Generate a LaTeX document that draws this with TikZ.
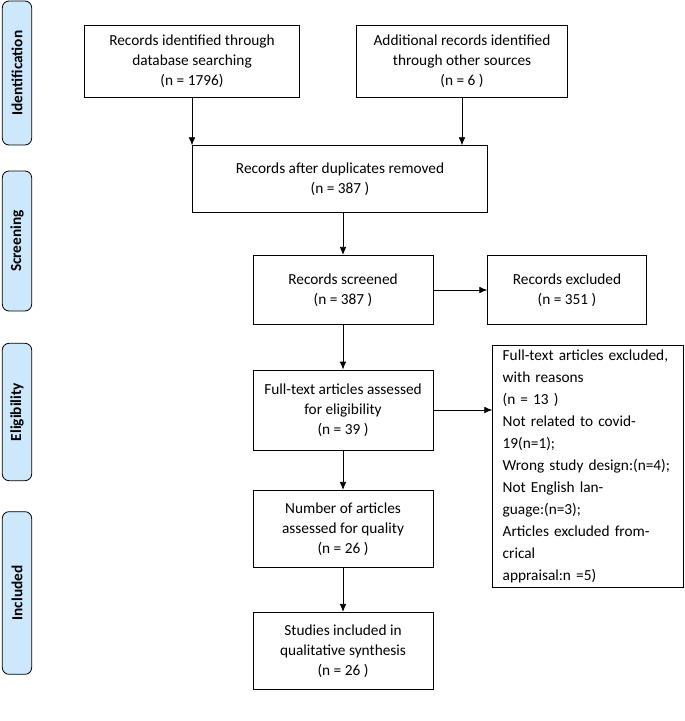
\documentclass[tikz,border=0pt]{standalone}
\usepackage{fontspec}
\setmainfont{Carlito}
\usetikzlibrary{arrows.meta}
\definecolor{stagefill}{RGB}{204,232,250}
\tikzset{
  box/.style={draw, semithick, align=center, font=\fontsize{11.5}{15}\selectfont},
  stage/.style={draw, semithick, rounded corners=5pt, fill=stagefill, font=\bfseries\fontsize{11.5}{13}\selectfont},
  arr/.style={-{Latex[length=6pt,width=5pt]}, semithick}
}
\begin{document}
\begin{tikzpicture}[x=0.75pt, y=-0.75pt]
   \useasboundingbox (0,0) rectangle (685,721);
   % stages
   \node[stage, minimum width=108pt, minimum height=22pt, rotate=90] (s1) at (17,73) {Identification};
   \node[stage, minimum width=105pt, minimum height=22pt, rotate=90] (s2) at (17,241) {Screening};
   \node[stage, minimum width=103pt, minimum height=22pt, rotate=90] (s3) at (17,412) {Eligibility};
   \node[stage, minimum width=122pt, minimum height=22pt, rotate=90] (s4) at (17,593) {Included};

   % boxes
   \node[box, minimum width=161pt, minimum height=54pt] (ident) at (192,61)
     {Records identified through\\database searching\\(n = 1796)};
   \node[box, minimum width=158pt, minimum height=54pt] (other) at (462,61)
     {Additional records identified\\through other sources\\(n = 6 )};
   \node[box, minimum width=221pt, minimum height=50pt] (dup) at (340,179)
     {Records after duplicates removed\\(n = 387 )};
   \node[box, minimum width=135pt, minimum height=52pt] (screen) at (343,290)
     {Records screened\\(n = 387 )};
   \node[box, minimum width=119pt, minimum height=52pt] (excl) at (567,290)
     {Records excluded\\(n = 351 )};
   \node[box, minimum width=135pt, minimum height=60pt] (full) at (343,410)
     {Full-text articles assessed\\for eligibility\\(n = 39 )};
   \node[box, minimum width=143pt, minimum height=141pt, align=left, text width=128pt,
         inner xsep=4pt, font=\fontsize{11.5}{16.5}\selectfont] (reasons) at (588,466)
     {Full-text articles excluded,\\with reasons\\(n = 13 )\\Not related to covid-\\19(n=1);\\Wrong study design:(n=4);\\Not English language:(n=3);\\Articles excluded fromcrical\\appraisal:n =5)};
   \node[box, minimum width=135pt, minimum height=58pt] (qual) at (343,529)
     {Number of articles\\assessed for quality\\(n = 26 )};
   \node[box, minimum width=135pt, minimum height=58pt] (incl) at (343,651)
     {Studies included in\\qualitative synthesis\\(n = 26 )};

   % arrows
   \draw[arr] (ident.south) -- (ident.south |- dup.north);
   \draw[arr] (other.south) -- (other.south |- dup.north);
   \draw[arr] (dup.south -| screen.north) -- (screen.north);
   \draw[arr] (screen.east) -- (excl.west);
   \draw[arr] (screen.south) -- (full.north);
   \draw[arr] (full.east) -- (reasons.west |- full.east);
   \draw[arr] (full.south) -- (qual.north);
   \draw[arr] (qual.south) -- (incl.north);
\end{tikzpicture}
\end{document}
